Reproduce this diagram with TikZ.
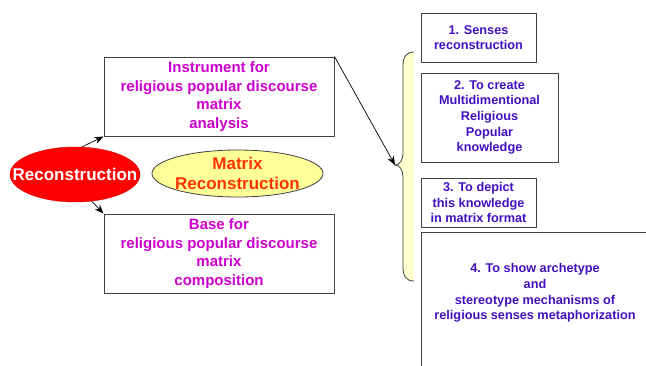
\documentclass[tikz,border=0pt]{standalone}
\usepackage{fontspec}
\setmainfont{Liberation Sans}
\usetikzlibrary{shapes.geometric,arrows.meta}
\definecolor{magtext}{HTML}{CC00CC}
\definecolor{bluetext}{HTML}{4010C0}
\definecolor{mxtext}{HTML}{FF3300}
\definecolor{lightyel}{HTML}{FFFF99}
\definecolor{braceyel}{HTML}{FFFFD0}
\definecolor{boxline}{HTML}{404040}
\tikzset{
  leftbox/.style={draw=boxline, line width=1pt, minimum width=230pt, minimum height=79pt, inner sep=0pt,
     align=center, text=magtext, font=\fontsize{15}{18.7}\selectfont\bfseries},
  rightbox/.style={draw=boxline, line width=1pt, inner sep=0pt, align=center, text=bluetext,
     font=\fontsize{12.7}{15.7}\selectfont\bfseries},
  righttext/.style={align=center, text=bluetext, font=\fontsize{12.7}{15.7}\selectfont\bfseries, inner sep=0pt},
  elltext/.style={align=center, font=\fontsize{17}{20}\selectfont\bfseries, inner sep=0pt},
  arr/.style={-{Stealth[length=9pt,width=7pt]}, line width=0.7pt, black},
}
\begin{document}
\begin{tikzpicture}[x=1pt,y=-1pt]
\useasboundingbox (0,0) rectangle (646,365);
% left boxes
\node[leftbox] (instr) at (219,96.5) {Instrument for\\religious popular discourse\\matrix\\analysis};
\node[leftbox] (base) at (219,253.5) {Base for\\religious popular discourse\\matrix\\composition};
% ellipses
\node[ellipse, fill=red, draw=red!85!black, minimum width=130pt, minimum height=55pt, inner sep=0pt,
  label={[elltext, text=white]center:Reconstruction}] (recon) at (75,174.5) {};
\node[ellipse, fill=lightyel, draw=boxline, line width=0.8pt, minimum width=171pt, minimum height=47pt, inner sep=0pt,
  label={[elltext, text=mxtext]center:Matrix\\Reconstruction}] (mx) at (237.5,173.5) {};
% right boxes
\node[rightbox, minimum width=115pt, minimum height=49pt] (b1) at (478.5,37.5) {1. Senses\\reconstruction};
\node[rightbox, minimum width=137pt, minimum height=89pt] (b2) at (489.5,117.5) {2. To create\\Multidimentional\\Religious\\Popular\\knowledge};
\node[rightbox, minimum width=115pt, minimum height=49pt] (b3) at (478.5,202.5) {3. To depict\\this knowledge\\in matrix format};
\node[draw=boxline, line width=1pt, minimum width=240pt, minimum height=150pt, inner sep=0pt, anchor=north west] (b4) at (421,232) {};
\node[righttext] (b4t) at (535,293) {4. To show archetype\\and\\stereotype mechanisms of\\religious senses metaphorization};
% brace
\coordinate (tip) at (395,165);
\fill[braceyel]
  (414,52) .. controls (406,52) and (403,57) .. (403,66)
  -- (403,152) .. controls (403,160) and (400,165) .. (tip)
  .. controls (400,165) and (403,170) .. (403,178)
  -- (403,267) .. controls (403,276) and (406,281) .. (414,281) -- cycle;
\draw[boxline, line width=0.8pt]
  (414,52) .. controls (406,52) and (403,57) .. (403,66)
  -- (403,152) .. controls (403,160) and (400,165) .. (tip)
  .. controls (400,165) and (403,170) .. (403,178)
  -- (403,267) .. controls (403,276) and (406,281) .. (414,281);
% arrows
\draw[arr] (recon.76) -- (instr.south west);
\draw[arr] (recon.-58) -- (base.north west);
\draw[arr] (instr.north east) -- (tip);
\end{tikzpicture}
\end{document}
